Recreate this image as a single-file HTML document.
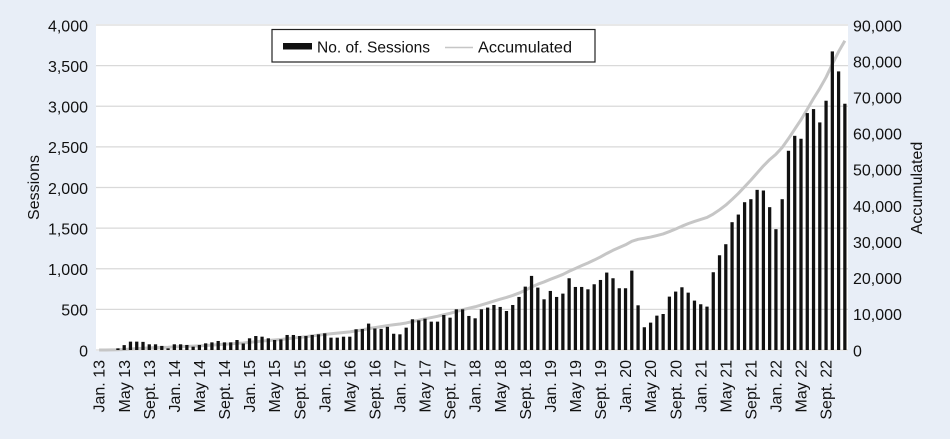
<!DOCTYPE html>
<html><head><meta charset="utf-8"><style>
html,body{margin:0;padding:0;background:#e8eef7;}
svg{display:block;}
text{font-family:"Liberation Sans",Arial,sans-serif;fill:#111;}
</style></head><body>
<svg width="950" height="439" viewBox="0 0 950 439" xmlns="http://www.w3.org/2000/svg">
<rect x="0" y="0" width="950" height="439" fill="#e8eef7"/>
<rect x="96" y="24" width="752" height="327" fill="#ffffff"/>
<g stroke="#d9d9d9" stroke-width="1.3">
<line x1="96" x2="848" y1="25" y2="25"/>
<line x1="96" x2="848" y1="65.625" y2="65.625"/>
<line x1="96" x2="848" y1="106.25" y2="106.25"/>
<line x1="96" x2="848" y1="146.875" y2="146.875"/>
<line x1="96" x2="848" y1="187.5" y2="187.5"/>
<line x1="96" x2="848" y1="228.125" y2="228.125"/>
<line x1="96" x2="848" y1="268.75" y2="268.75"/>
<line x1="96" x2="848" y1="309.375" y2="309.375"/>
<line x1="96" x2="848" y1="350" y2="350"/>
</g>
<g transform="translate(99.133,350) scale(6.26667,-0.08125)">
<polyline fill="none" stroke="#c6c6c6" stroke-width="3" stroke-linejoin="round" vector-effect="non-scaling-stroke" points="0,0 1,0.7 2,1.4 3,3.0 4,6.4 5,11.7 6,17.0 7,22.1 8,26.0 9,29.8 10,32.7 11,34.3 12,38.1 13,42.0 14,45.4 15,48.0 16,51.4 17,55.8 18,60.7 19,66.3 20,71.2 21,76.1 22,82.3 23,86.5 24,93.6 25,102.0 26,110.0 27,117.1 28,123.3 29,129.8 30,138.8 31,147.7 32,156.0 33,164.4 34,173.3 35,182.6 36,192.4 37,199.9 38,207.4 39,215.4 40,223.4 41,235.4 42,247.6 43,262.8 44,275.2 45,287.5 46,300.9 47,310.5 48,319.8 49,332.7 50,350.2 51,366.4 52,383.6 53,399.1 54,414.6 55,433.8 56,451.5 57,473.7 58,496.0 59,514.6 60,532.0 61,554.2 62,577.4 63,602.0 64,625.6 65,646.9 66,671.6 67,700.6 68,735.2 69,775.8 70,809.9 71,837.6 72,870.0 73,899.0 74,929.8 75,969.1 76,1003.6 77,1038.0 78,1071.2 79,1107.2 80,1145.5 81,1187.9 82,1227.1 83,1260.9 84,1294.7 85,1338.1 86,1362.5 87,1375.0 88,1390.0 89,1408.8 90,1428.4 91,1457.6 92,1489.6 93,1523.9 94,1555.3 95,1582.3 96,1607.3 97,1631.1 98,1673.6 99,1725.4 100,1783.3 101,1853.2 102,1927.3 103,2008.1 104,2090.6 105,2178.2 106,2265.5 107,2343.6 108,2409.7 109,2492.2 110,2601.2 111,2718.3 112,2833.9 113,2963.5 114,3095.2 115,3219.7 116,3356.1 117,3519.4 118,3671.8 119,3806.5"/>
<g fill="#111">
<rect x="2.74" width="0.52" height="20"/>
<rect x="3.74" width="0.52" height="60"/>
<rect x="4.74" width="0.52" height="103"/>
<rect x="5.74" width="0.52" height="103"/>
<rect x="6.74" width="0.52" height="100"/>
<rect x="7.74" width="0.52" height="70"/>
<rect x="8.74" width="0.52" height="70"/>
<rect x="9.74" width="0.52" height="50"/>
<rect x="10.74" width="0.52" height="20"/>
<rect x="11.74" width="0.52" height="70"/>
<rect x="12.74" width="0.52" height="70"/>
<rect x="13.74" width="0.52" height="62"/>
<rect x="14.74" width="0.52" height="41"/>
<rect x="15.74" width="0.52" height="62"/>
<rect x="16.74" width="0.52" height="82"/>
<rect x="17.74" width="0.52" height="94"/>
<rect x="18.74" width="0.52" height="111"/>
<rect x="19.74" width="0.52" height="94"/>
<rect x="20.74" width="0.52" height="94"/>
<rect x="21.74" width="0.52" height="123"/>
<rect x="22.74" width="0.52" height="80"/>
<rect x="23.74" width="0.52" height="144"/>
<rect x="24.74" width="0.52" height="172"/>
<rect x="25.74" width="0.52" height="164"/>
<rect x="26.74" width="0.52" height="144"/>
<rect x="27.74" width="0.52" height="123"/>
<rect x="28.74" width="0.52" height="131"/>
<rect x="29.74" width="0.52" height="185"/>
<rect x="30.74" width="0.52" height="185"/>
<rect x="31.74" width="0.52" height="172"/>
<rect x="32.74" width="0.52" height="172"/>
<rect x="33.74" width="0.52" height="185"/>
<rect x="34.74" width="0.52" height="193"/>
<rect x="35.74" width="0.52" height="205"/>
<rect x="36.74" width="0.52" height="152"/>
<rect x="37.74" width="0.52" height="152"/>
<rect x="38.74" width="0.52" height="164"/>
<rect x="39.74" width="0.52" height="164"/>
<rect x="40.74" width="0.52" height="255"/>
<rect x="41.74" width="0.52" height="258"/>
<rect x="42.74" width="0.52" height="325"/>
<rect x="43.74" width="0.52" height="265"/>
<rect x="44.74" width="0.52" height="260"/>
<rect x="45.74" width="0.52" height="285"/>
<rect x="46.74" width="0.52" height="200"/>
<rect x="47.74" width="0.52" height="193"/>
<rect x="48.74" width="0.52" height="275"/>
<rect x="49.74" width="0.52" height="378"/>
<rect x="50.74" width="0.52" height="365"/>
<rect x="51.74" width="0.52" height="386"/>
<rect x="52.74" width="0.52" height="349"/>
<rect x="53.74" width="0.52" height="349"/>
<rect x="54.74" width="0.52" height="431"/>
<rect x="55.74" width="0.52" height="398"/>
<rect x="56.74" width="0.52" height="501"/>
<rect x="57.74" width="0.52" height="501"/>
<rect x="58.74" width="0.52" height="419"/>
<rect x="59.74" width="0.52" height="390"/>
<rect x="60.74" width="0.52" height="501"/>
<rect x="61.74" width="0.52" height="522"/>
<rect x="62.74" width="0.52" height="554"/>
<rect x="63.74" width="0.52" height="530"/>
<rect x="64.74" width="0.52" height="480"/>
<rect x="65.74" width="0.52" height="554"/>
<rect x="66.74" width="0.52" height="653"/>
<rect x="67.74" width="0.52" height="780"/>
<rect x="68.74" width="0.52" height="912"/>
<rect x="69.74" width="0.52" height="768"/>
<rect x="70.74" width="0.52" height="624"/>
<rect x="71.74" width="0.52" height="727"/>
<rect x="72.74" width="0.52" height="653"/>
<rect x="73.74" width="0.52" height="694"/>
<rect x="74.74" width="0.52" height="883"/>
<rect x="75.74" width="0.52" height="776"/>
<rect x="76.74" width="0.52" height="776"/>
<rect x="77.74" width="0.52" height="747"/>
<rect x="78.74" width="0.52" height="809"/>
<rect x="79.74" width="0.52" height="862"/>
<rect x="80.74" width="0.52" height="953"/>
<rect x="81.74" width="0.52" height="883"/>
<rect x="82.74" width="0.52" height="760"/>
<rect x="83.74" width="0.52" height="760"/>
<rect x="84.74" width="0.52" height="977"/>
<rect x="85.74" width="0.52" height="550"/>
<rect x="86.74" width="0.52" height="280"/>
<rect x="87.74" width="0.52" height="337"/>
<rect x="88.74" width="0.52" height="423"/>
<rect x="89.74" width="0.52" height="443"/>
<rect x="90.74" width="0.52" height="657"/>
<rect x="91.74" width="0.52" height="719"/>
<rect x="92.74" width="0.52" height="772"/>
<rect x="93.74" width="0.52" height="706"/>
<rect x="94.74" width="0.52" height="608"/>
<rect x="95.74" width="0.52" height="563"/>
<rect x="96.74" width="0.52" height="534"/>
<rect x="97.74" width="0.52" height="957"/>
<rect x="98.74" width="0.52" height="1166"/>
<rect x="99.74" width="0.52" height="1302"/>
<rect x="100.74" width="0.52" height="1573"/>
<rect x="101.74" width="0.52" height="1667"/>
<rect x="102.74" width="0.52" height="1819"/>
<rect x="103.74" width="0.52" height="1856"/>
<rect x="104.74" width="0.52" height="1971"/>
<rect x="105.74" width="0.52" height="1963"/>
<rect x="106.74" width="0.52" height="1758"/>
<rect x="107.74" width="0.52" height="1487"/>
<rect x="108.74" width="0.52" height="1856"/>
<rect x="109.74" width="0.52" height="2452"/>
<rect x="110.74" width="0.52" height="2636"/>
<rect x="111.74" width="0.52" height="2600"/>
<rect x="112.74" width="0.52" height="2916"/>
<rect x="113.74" width="0.52" height="2965"/>
<rect x="114.74" width="0.52" height="2801"/>
<rect x="115.74" width="0.52" height="3068"/>
<rect x="116.74" width="0.52" height="3675"/>
<rect x="117.74" width="0.52" height="3429"/>
<rect x="118.74" width="0.52" height="3031"/>
</g>
</g>
<!-- legend -->
<rect x="272" y="29.5" width="323" height="32.5" fill="#fff" stroke="#222" stroke-width="1.2"/>
<rect x="283" y="43" width="29" height="6.5" fill="#111"/>
<text x="317" y="52.3" font-size="15.5" textLength="113" lengthAdjust="spacingAndGlyphs">No. of. Sessions</text>
<line x1="445" x2="473" y1="47.5" y2="47.5" stroke="#c6c6c6" stroke-width="1.5"/>
<text x="478" y="52.3" font-size="15.5" textLength="94" lengthAdjust="spacingAndGlyphs">Accumulated</text>
<!-- left axis labels -->
<g font-size="16" text-anchor="end">
<text x="88" y="31.3">4,000</text>
<text x="88" y="71.9">3,500</text>
<text x="88" y="112.5">3,000</text>
<text x="88" y="153.2">2,500</text>
<text x="88" y="193.8">2,000</text>
<text x="88" y="234.4">1,500</text>
<text x="88" y="275.1">1,000</text>
<text x="88" y="315.7">500</text>
<text x="88" y="356.3">0</text>
</g>
<!-- right axis labels -->
<g font-size="16" text-anchor="start">
<text x="853" y="31.3">90,000</text>
<text x="853" y="67.4">80,000</text>
<text x="853" y="103.5">70,000</text>
<text x="853" y="139.6">60,000</text>
<text x="853" y="175.7">50,000</text>
<text x="853" y="211.9">40,000</text>
<text x="853" y="248">30,000</text>
<text x="853" y="284.1">20,000</text>
<text x="853" y="320.2">10,000</text>
<text x="853" y="356.3">0</text>
</g>
<!-- axis titles -->
<text font-size="16" text-anchor="middle" transform="translate(39,187.5) rotate(-90)">Sessions</text>
<text font-size="16" text-anchor="middle" transform="translate(922,188) rotate(-90)">Accumulated</text>
<!-- x labels -->
<g font-size="16" text-anchor="end">
<text transform="translate(99.13,360) rotate(-90)" dy="0.35em">Jan. 13</text>
<text transform="translate(124.2,360) rotate(-90)" dy="0.35em">May 13</text>
<text transform="translate(149.27,360) rotate(-90)" dy="0.35em">Sept. 13</text>
<text transform="translate(174.33,360) rotate(-90)" dy="0.35em">Jan. 14</text>
<text transform="translate(199.4,360) rotate(-90)" dy="0.35em">May 14</text>
<text transform="translate(224.47,360) rotate(-90)" dy="0.35em">Sept. 14</text>
<text transform="translate(249.53,360) rotate(-90)" dy="0.35em">Jan. 15</text>
<text transform="translate(274.6,360) rotate(-90)" dy="0.35em">May 15</text>
<text transform="translate(299.67,360) rotate(-90)" dy="0.35em">Sept. 15</text>
<text transform="translate(324.73,360) rotate(-90)" dy="0.35em">Jan. 16</text>
<text transform="translate(349.8,360) rotate(-90)" dy="0.35em">May 16</text>
<text transform="translate(374.87,360) rotate(-90)" dy="0.35em">Sept. 16</text>
<text transform="translate(399.93,360) rotate(-90)" dy="0.35em">Jan. 17</text>
<text transform="translate(425,360) rotate(-90)" dy="0.35em">May 17</text>
<text transform="translate(450.07,360) rotate(-90)" dy="0.35em">Sept. 17</text>
<text transform="translate(475.13,360) rotate(-90)" dy="0.35em">Jan. 18</text>
<text transform="translate(500.2,360) rotate(-90)" dy="0.35em">May 18</text>
<text transform="translate(525.27,360) rotate(-90)" dy="0.35em">Sept. 18</text>
<text transform="translate(550.33,360) rotate(-90)" dy="0.35em">Jan. 19</text>
<text transform="translate(575.4,360) rotate(-90)" dy="0.35em">May 19</text>
<text transform="translate(600.47,360) rotate(-90)" dy="0.35em">Sept. 19</text>
<text transform="translate(625.53,360) rotate(-90)" dy="0.35em">Jan. 20</text>
<text transform="translate(650.6,360) rotate(-90)" dy="0.35em">May 20</text>
<text transform="translate(675.67,360) rotate(-90)" dy="0.35em">Sept. 20</text>
<text transform="translate(700.73,360) rotate(-90)" dy="0.35em">Jan. 21</text>
<text transform="translate(725.8,360) rotate(-90)" dy="0.35em">May 21</text>
<text transform="translate(750.87,360) rotate(-90)" dy="0.35em">Sept. 21</text>
<text transform="translate(775.93,360) rotate(-90)" dy="0.35em">Jan. 22</text>
<text transform="translate(801,360) rotate(-90)" dy="0.35em">May 22</text>
<text transform="translate(826.07,360) rotate(-90)" dy="0.35em">Sept. 22</text>
</g>
</svg>
</body></html>
